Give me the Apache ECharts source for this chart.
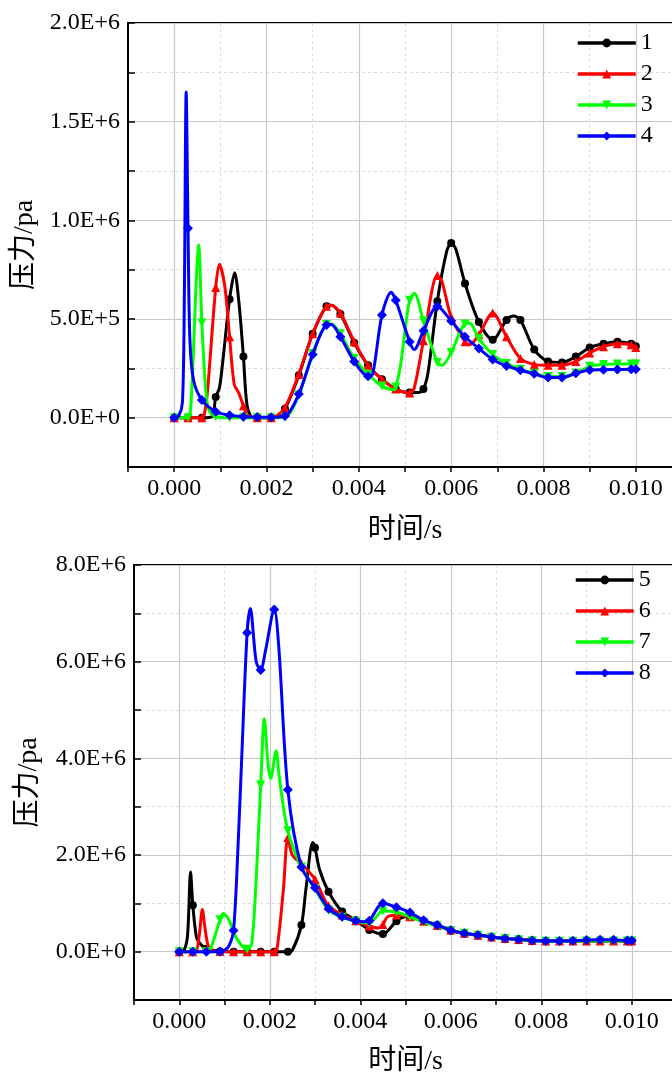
<!DOCTYPE html>
<html><head><meta charset="utf-8">
<script src="https://cdn.jsdelivr.net/npm/echarts@6/dist/echarts.min.js"></script>
<style>html,body{margin:0;padding:0;background:#fff}#c{width:672px;height:1074px}</style>
</head><body><div id="c"></div>
<script>
// ---------- data (time in s, pressure in Pa) ----------
const topNames = ['1', '2', '3', '4'];
const bottomNames = ['5', '6', '7', '8'];
const xAxisTitle = '时间/s';
const yAxisTitle = '压力/pa';

const s1 = [[0,0],[0.0003,0],[0.0006,0],[0.00082,5e3],[0.0009,1.05e5],[0.00098,1.5e5],[0.00106,3.0e5],[0.0012,6.0e5],[0.00131,7.35e5],[0.0014,5.9e5],[0.0015,3.1e5],[0.00158,6e4],[0.0017,0],[0.0018,0],[0.0021,0],[0.0022,4e3],[0.0024,4.5e4],[0.0027,2.15e5],[0.003,4.25e5],[0.0033,5.65e5],[0.0034,5.7e5],[0.0036,5.25e5],[0.0039,3.8e5],[0.0042,2.65e5],[0.0045,1.95e5],[0.0048,1.45e5],[0.0051,1.27e5],[0.0053,1.28e5],[0.0054,1.45e5],[0.0055,2.3e5],[0.0057,5.9e5],[0.0059,8.4e5],[0.006,8.85e5],[0.0061,8.55e5],[0.0063,6.8e5],[0.0066,4.85e5],[0.0069,3.95e5],[0.0072,4.95e5],[0.00735,5.15e5],[0.0075,4.95e5],[0.0078,3.45e5],[0.0081,2.85e5],[0.0084,2.8e5],[0.0087,3.1e5],[0.009,3.55e5],[0.0093,3.75e5],[0.0096,3.85e5],[0.0099,3.75e5],[0.01,3.62e5]];
const s2 = [[0,0],[0.0003,0],[0.0006,0],[0.00065,1.5e4],[0.00072,1.3e5],[0.0009,6.6e5],[0.00098,7.78e5],[0.0011,6.6e5],[0.0012,4.1e5],[0.0013,1.7e5],[0.0014,1.25e5],[0.0015,6e4],[0.0016,1e4],[0.0018,0],[0.0021,0],[0.0022,5e3],[0.0024,5e4],[0.0027,2.2e5],[0.003,4.25e5],[0.0033,5.65e5],[0.0034,5.7e5],[0.0036,5.3e5],[0.0039,3.85e5],[0.0042,2.65e5],[0.0045,1.95e5],[0.0048,1.45e5],[0.0051,1.25e5],[0.0052,1.5e5],[0.0054,3.9e5],[0.0057,7.2e5],[0.0058,6.9e5],[0.006,5.1e5],[0.0063,3.85e5],[0.0064,3.7e5],[0.0066,4.2e5],[0.0069,5.3e5],[0.0072,4.1e5],[0.0075,3.0e5],[0.0078,2.7e5],[0.0081,2.65e5],[0.0084,2.65e5],[0.0087,2.85e5],[0.009,3.28e5],[0.0093,3.6e5],[0.0096,3.75e5],[0.0099,3.7e5],[0.01,3.55e5]];
const s3 = [[0,0],[0.0003,0],[0.00035,3e4],[0.0004,2.3e5],[0.00047,6.5e5],[0.00053,8.75e5],[0.0006,4.8e5],[0.00068,1.5e5],[0.00075,4e4],[0.0009,5e3],[0.0012,0],[0.0015,0],[0.0018,0],[0.0021,0],[0.0024,2e3],[0.0027,1.15e5],[0.003,3.25e5],[0.0033,4.72e5],[0.0034,4.75e5],[0.0036,4.25e5],[0.0039,3.0e5],[0.0042,2.2e5],[0.0045,1.6e5],[0.00475,1.42e5],[0.0048,1.55e5],[0.0049,2.6e5],[0.005,4.4e5],[0.0051,5.95e5],[0.0052,6.3e5],[0.0054,4.9e5],[0.0057,2.8e5],[0.0058,2.65e5],[0.006,3.3e5],[0.0062,4.4e5],[0.0063,4.75e5],[0.0064,4.8e5],[0.0066,4.0e5],[0.0069,3.2e5],[0.0072,2.75e5],[0.0075,2.45e5],[0.0078,2.25e5],[0.0081,2.08e5],[0.0084,2.08e5],[0.0087,2.25e5],[0.009,2.6e5],[0.0093,2.7e5],[0.0096,2.72e5],[0.0099,2.72e5],[0.01,2.72e5]];
const s4 = [[0,0],[0.0001,1e4],[0.00018,8e4],[0.00022,6e5],[0.00026,1.65e6],[0.0003,9.6e5],[0.00034,4e5],[0.00042,1.9e5],[0.0006,9e4],[0.0009,3e4],[0.0012,1.2e4],[0.0015,5e3],[0.0018,3e3],[0.0021,2e3],[0.0024,8e3],[0.0027,1.2e5],[0.003,3.2e5],[0.0033,4.7e5],[0.0034,4.72e5],[0.0036,4.1e5],[0.0039,2.85e5],[0.0042,2.1e5],[0.0043,2.2e5],[0.0045,5.2e5],[0.0047,6.35e5],[0.0048,5.95e5],[0.0051,3.85e5],[0.0052,3.45e5],[0.0054,4.4e5],[0.0057,5.65e5],[0.006,4.9e5],[0.0063,4.1e5],[0.0066,3.5e5],[0.0069,2.95e5],[0.0072,2.62e5],[0.0075,2.4e5],[0.0078,2.22e5],[0.0081,2.03e5],[0.0084,2.03e5],[0.0087,2.25e5],[0.009,2.42e5],[0.0093,2.43e5],[0.0096,2.44e5],[0.0099,2.45e5],[0.01,2.45e5]];

const s5 = [[0,0],[0.00009,1e4],[0.00018,3e5],[0.00025,1.65e6],[0.0003,9.6e5],[0.00038,3e5],[0.00046,1.7e5],[0.0006,6e4],[0.0009,1e4],[0.0012,0],[0.0015,0],[0.0018,0],[0.0021,0],[0.0024,0],[0.0025,3e4],[0.0027,5.5e5],[0.0028,1.3e6],[0.00295,2.26e6],[0.003,2.15e6],[0.0031,1.7e6],[0.0033,1.24e6],[0.0036,8.3e5],[0.0039,6.5e5],[0.0042,4.5e5],[0.0045,3.65e5],[0.0048,6.3e5],[0.005,7.2e5],[0.0051,7.1e5],[0.0054,6.3e5],[0.0057,5.5e5],[0.006,4.35e5],[0.0063,3.75e5],[0.0066,3.4e5],[0.0069,3.05e5],[0.0072,2.75e5],[0.0075,2.55e5],[0.0078,2.3e5],[0.0081,2.2e5],[0.0084,2.2e5],[0.0087,2.2e5],[0.009,2.2e5],[0.0093,2.2e5],[0.0096,2.2e5],[0.0099,2.2e5],[0.01,2.2e5]];
const s6 = [[0,0],[0.0003,0],[0.00039,5e4],[0.00045,4e5],[0.00051,8.7e5],[0.00057,4.8e5],[0.00063,1.5e5],[0.0007,3e4],[0.0009,5e3],[0.0012,0],[0.0015,0],[0.0018,0],[0.0021,0],[0.00215,1e4],[0.0023,1.27e6],[0.0024,2.36e6],[0.0025,2.0e6],[0.0027,1.82e6],[0.0029,1.62e6],[0.003,1.5e6],[0.0032,1.1e6],[0.0033,9.5e5],[0.0036,7.6e5],[0.0039,6.4e5],[0.0042,5.3e5],[0.0044,4.9e5],[0.0045,5.6e5],[0.0046,7.2e5],[0.0048,7.6e5],[0.0051,7.2e5],[0.0054,6.3e5],[0.0057,5.4e5],[0.006,4.5e5],[0.0063,3.8e5],[0.0066,3.4e5],[0.0069,3.05e5],[0.0072,2.75e5],[0.0075,2.5e5],[0.0078,2.3e5],[0.0081,2.2e5],[0.0084,2.2e5],[0.0087,2.2e5],[0.009,2.2e5],[0.0093,2.2e5],[0.0096,2.2e5],[0.0099,2.2e5],[0.01,2.2e5]];
const s7 = [[0,0],[0.0003,0],[0.0006,0],[0.0007,8e4],[0.0009,6.6e5],[0.00097,7.9e5],[0.0011,6.5e5],[0.00127,2.7e5],[0.0015,5e4],[0.0016,1.5e5],[0.0017,1.5e6],[0.0018,3.45e6],[0.00188,4.82e6],[0.00196,3.9e6],[0.00202,3.58e6],[0.00214,4.15e6],[0.0022,3.7e6],[0.0023,3.0e6],[0.0024,2.5e6],[0.0025,2.2e6],[0.0027,1.75e6],[0.003,1.3e6],[0.0033,8.6e5],[0.0036,7.1e5],[0.0039,6.3e5],[0.0042,5.9e5],[0.0045,8.4e5],[0.0048,8.2e5],[0.0051,7.2e5],[0.0054,6.1e5],[0.0057,5.3e5],[0.006,4.4e5],[0.0063,3.8e5],[0.0066,3.4e5],[0.0069,3.0e5],[0.0072,2.7e5],[0.0075,2.45e5],[0.0078,2.25e5],[0.0081,2.15e5],[0.0084,2.15e5],[0.0087,2.15e5],[0.009,2.2e5],[0.0093,2.2e5],[0.0096,2.2e5],[0.0099,2.2e5],[0.01,2.2e5]];
const s8 = [[0,0],[0.0003,0],[0.0006,0],[0.0009,0],[0.001,3e4],[0.0011,1.2e5],[0.0012,4.4e5],[0.0013,2.2e6],[0.00138,4.0e6],[0.0015,6.6e6],[0.00157,7.1e6],[0.0017,6.0e6],[0.0018,5.83e6],[0.0019,6.2e6],[0.0021,7.08e6],[0.0022,6.3e6],[0.0024,3.35e6],[0.0027,1.75e6],[0.003,1.32e6],[0.0033,8.9e5],[0.0036,7.2e5],[0.0039,6.4e5],[0.0041,6.2e5],[0.0042,6.4e5],[0.0045,1.0e6],[0.0048,9.2e5],[0.0051,8.1e5],[0.0054,6.5e5],[0.0057,5.5e5],[0.006,4.45e5],[0.0063,3.8e5],[0.0066,3.45e5],[0.0069,3.05e5],[0.0072,2.75e5],[0.0075,2.5e5],[0.0078,2.3e5],[0.0081,2.2e5],[0.0084,2.2e5],[0.0087,2.25e5],[0.009,2.4e5],[0.0093,2.45e5],[0.0096,2.45e5],[0.0099,2.3e5],[0.01,2.3e5]];

const topData = [s1, s2, s3, s4];
const bottomData = [s5, s6, s7, s8];

// ---------- style ----------
const colors = ['#000000', '#ff0000', '#00ff00', '#0000ff'];
const symbols = ['circle', 'triangle', 'path://M0,0L10,0L5,9Z', 'diamond'];
const symbolSizes = [8, 9, 9, 10];
const serif = '"Liberation Serif", "Times New Roman", serif';
const nameFont = '"Liberation Serif", "Noto Sans CJK SC", serif';
const MARK_STEP = 0.0003;

function isMarker(t) {
  const k = t / MARK_STEP;
  return Math.abs(k - Math.round(k)) < 1e-6 || Math.abs(t - 0.01) < 1e-9;
}
function buildData(arr) {
  return arr.map(p => isMarker(p[0]) ? { value: p } : { value: p, symbol: 'none' });
}

const gridDefs = [
  { left: 128, top: 23, width: 554, height: 444 },
  { left: 134, top: 565, width: 543, height: 435 }
];
const yRanges = [
  { min: -2.5e5, max: 2e6, interval: 2.5e5 },
  { min: -1e6, max: 8e6, interval: 1e6 }
];
const xRange = { min: -0.001, max: 0.011, interval: 0.001 };

const grids = gridDefs.map(g => Object.assign({
  show: true, borderColor: '#000', borderWidth: 2, backgroundColor: 'rgba(0,0,0,0)',
  outerBoundsMode: 'none', containLabel: false
}, g));

const xAxes = [], yAxes = [];
[0, 1].forEach(gi => {
  xAxes.push({
    type: 'value', gridIndex: gi, min: xRange.min, max: xRange.max, interval: xRange.interval,
    name: xAxisTitle, nameLocation: 'middle', nameGap: gi === 0 ? 50 : 48,
    nameTextStyle: { fontFamily: nameFont, fontSize: 28, color: '#000' },
    axisLine: { show: true, onZero: false, lineStyle: { color: '#000', width: 2 } },
    axisTick: { show: true, inside: false, length: 5, lineStyle: { color: '#000', width: 1.5 } },
    axisLabel: {
      margin: 10, fontFamily: serif, fontSize: 24, color: '#000',
      formatter: v => (Math.round(v * 1000) % 2 === 0) ? v.toFixed(3) : ''
    },
    splitLine: { show: true, lineStyle: { color: ['rgba(0,0,0,0)', '#c8c8c8'], width: 1.2, type: 'solid' } }
  });
  xAxes.push({
    type: 'value', gridIndex: gi, min: xRange.min, max: xRange.max, interval: xRange.interval,
    position: 'bottom',
    axisLine: { show: false }, axisTick: { show: false }, axisLabel: { show: false },
    splitLine: { show: true, lineStyle: { color: ['#dcdcdc', 'rgba(0,0,0,0)'], width: 1, type: [3, 3] } }
  });
  const yr = yRanges[gi];
  yAxes.push({
    type: 'value', gridIndex: gi, min: yr.min, max: yr.max, interval: yr.interval,
    name: yAxisTitle, nameLocation: 'middle', nameGap: gi === 0 ? 89 : 91,
    nameTextStyle: { fontFamily: nameFont, fontSize: 28, color: '#000' },
    axisLine: { show: true, onZero: false, lineStyle: { color: '#000', width: 2 } },
    axisTick: { show: true, inside: true, length: 7, lineStyle: { color: '#000', width: 1.5 } },
    axisLabel: {
      margin: 8, fontFamily: serif, fontSize: 24, color: '#000',
      formatter: v => (Math.round(v / yr.interval) % 2 === 0) ? v.toExponential(1).toUpperCase() : ''
    },
    splitLine: { show: true, lineStyle: { color: ['rgba(0,0,0,0)', '#c8c8c8'], width: 1.2, type: 'solid' } }
  });
  yAxes.push({
    type: 'value', gridIndex: gi, min: yr.min, max: yr.max, interval: yr.interval,
    position: 'left',
    axisLine: { show: false }, axisTick: { show: false }, axisLabel: { show: false },
    splitLine: { show: true, lineStyle: { color: ['#dcdcdc', 'rgba(0,0,0,0)'], width: 1, type: [3, 3] } }
  });
});

const series = [];
[topData, bottomData].forEach((group, gi) => {
  const names = gi === 0 ? topNames : bottomNames;
  group.forEach((arr, i) => {
    series.push({
      type: 'line', name: names[i], xAxisIndex: gi * 2, yAxisIndex: gi * 2,
      data: buildData(arr), smooth: 0.3,
      symbol: symbols[i], symbolSize: symbolSizes[i], showSymbol: true,
      lineStyle: { color: colors[i], width: 3 },
      itemStyle: { color: colors[i] },
      z: 2 + i, animation: false, silent: true
    });
  });
});

const legends = [
  { data: topNames, left: 571, top: 26 },
  { data: bottomNames, left: 569, top: 563 }
].map(l => Object.assign({
  orient: 'vertical', itemWidth: 58, itemHeight: 11, itemGap: 7,
  lineStyle: { width: 3.5 },
  textStyle: { fontFamily: serif, fontSize: 24, color: '#000', lineHeight: 24 },
  selectedMode: false
}, l));

const chart = echarts.init(document.getElementById('c'), null, { renderer: 'canvas' });
chart.setOption({
  animation: false,
  backgroundColor: '#ffffff',
  grid: grids, xAxis: xAxes, yAxis: yAxes, legend: legends, series: series
});
</script></body></html>
